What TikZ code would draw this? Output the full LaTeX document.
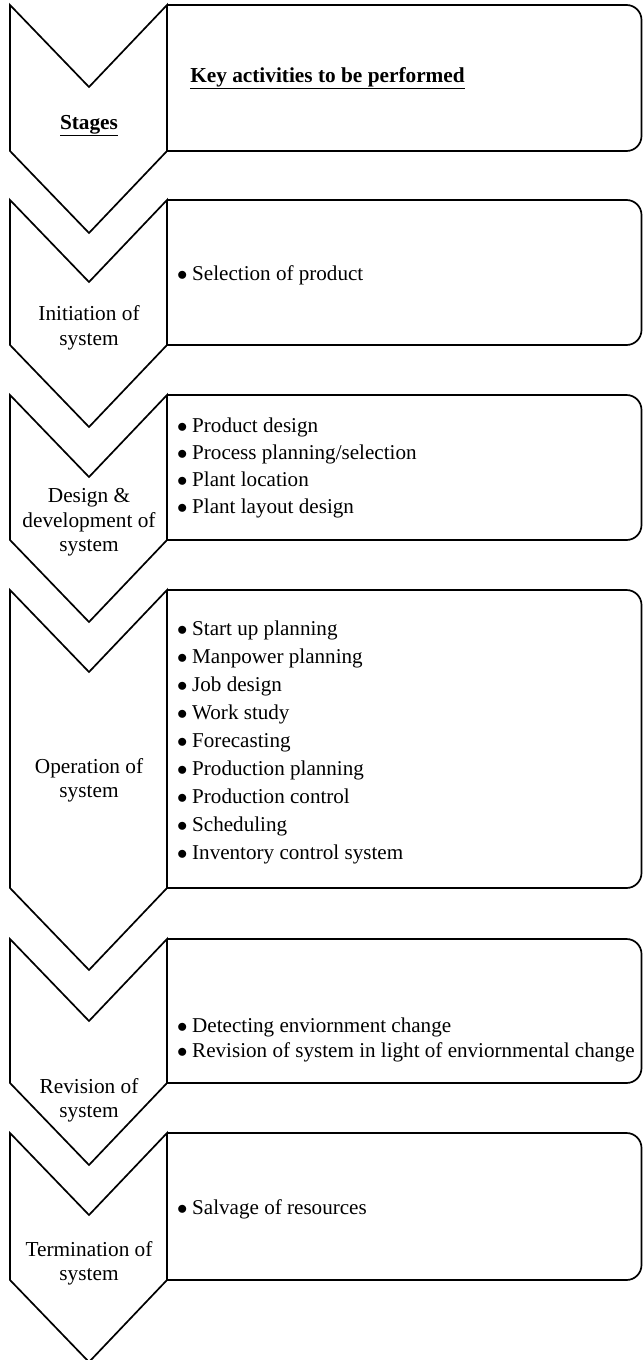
\documentclass[tikz,border=0pt]{standalone}
\usepackage{fontspec}
\setmainfont{Liberation Serif}
% bullet item marker with a fixed gap before the text
\newcommand{\bul}{\makebox[15pt][l]{$\bullet$}}
\begin{document}
\begin{tikzpicture}[x=1pt,y=-1pt,
  outline/.style={line width=1.7pt, line join=miter, black},
  stagetext/.style={align=center, font=\fontsize{21.3}{24.5}\selectfont, inner sep=0pt},
  listtext/.style={align=left, anchor=west, font=\fontsize{21.1}{28}\selectfont, inner sep=0pt},
  headtext/.style={font=\fontsize{21.3}{24}\selectfont\bfseries, inner sep=0pt}]
\useasboundingbox (0,0) rectangle (643,1360);
% chevron x-extent and depth of notch/tip
\def\xl{10}\def\xm{89}\def\xr{167}\def\dp{82}\def\xe{641.5}
% one stage: chevron + rounded activity box
\foreach \t/\b in {5/151, 200/345, 395/540, 590/888, 939/1083, 1133/1280}{
  \draw[outline] (\xl,\t) -- (\xm,\t+\dp) -- (\xr,\t) -- (\xr,\b) -- (\xm,\b+\dp) -- (\xl,\b) -- cycle;
  \draw[outline, rounded corners=15pt] (\xr,\t) -- (\xe,\t) -- (\xe,\b) -- (\xr,\b);
}
% headings
\node[headtext] (stages) at (\xm,122) {\underline{Stages}};
\node[headtext] (keyact) at (327.5,75) {\underline{Key activities to be performed}};
% stage names
\node[stagetext] (s1) at (\xm,325.5) {Initiation of\\system};
\node[stagetext] (s2) at (\xm,520) {Design \&\\development of\\system};
\node[stagetext] (s3) at (\xm,778) {Operation of\\system};
\node[stagetext] (s4) at (\xm,1098) {Revision of\\system};
\node[stagetext] (s5) at (\xm,1261) {Termination of\\system};
% activities
\node[listtext] (a1) at (177,273) {\bul Selection of product};
\node[listtext, font=\fontsize{21.1}{27}\selectfont] (a2) at (177,465.5) {\bul Product design\\\bul Process planning/selection\\\bul Plant location\\\bul Plant layout design};
\node[listtext] (a3) at (177,740) {\bul Start up planning\\\bul Manpower planning\\\bul Job design\\\bul Work study\\\bul Forecasting\\\bul Production planning\\\bul Production control\\\bul Scheduling\\\bul Inventory control system};
\node[listtext, font=\fontsize{21.1}{25.5}\selectfont] (a4) at (177,1037.5) {\bul Detecting enviornment change\\\bul Revision of system in light of enviornmental change};
\node[listtext] (a5) at (177,1207) {\bul Salvage of resources};
\end{tikzpicture}
\end{document}
